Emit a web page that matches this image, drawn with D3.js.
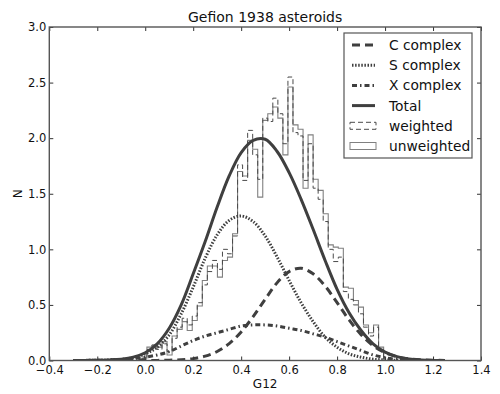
<html>
<head>
<meta charset="utf-8">
<script src="https://d3js.org/d3.v7.min.js"></script>
<style>
    html, body {
        margin: 0;
        padding: 0;
        background: white;
    }
    text {
        font-family: "DejaVu Sans", sans-serif;
        fill: #111;
    }
</style>
</head>
<body>
<script>
    var width = 500;
    var height = 394;

    // model curves, sampled on a G12 grid
    var gridX = [-0.30, -0.25, -0.20, -0.15, -0.10, -0.05, 0.00, 0.05, 0.10, 0.15, 0.20, 0.25, 0.30, 0.35, 0.40, 0.45,
                 0.50, 0.55, 0.60, 0.65, 0.70, 0.75, 0.80, 0.85, 0.90, 0.95, 1.00, 1.05, 1.10, 1.15, 1.20, 1.25];
    var cComplex = [0, 0, 0, 0, 0, 0, 0, 0.001, 0.003, 0.007, 0.017, 0.039, 0.081, 0.152, 0.257, 0.395,
                    0.55, 0.70, 0.80, 0.83, 0.78, 0.67, 0.52, 0.365, 0.233, 0.134, 0.071, 0.034, 0.015, 0.006, 0.002, 0.001];
    var sComplex = [0, 0.001, 0.002, 0.005, 0.010, 0.025, 0.06, 0.12, 0.23, 0.42, 0.66, 0.92, 1.13, 1.26, 1.30, 1.25,
                    1.12, 0.93, 0.72, 0.52, 0.35, 0.21, 0.12, 0.06, 0.03, 0.012, 0.005, 0.002, 0, 0, 0, 0];
    var xComplex = [0, 0.001, 0.002, 0.004, 0.008, 0.015, 0.03, 0.05, 0.08, 0.13, 0.18, 0.22, 0.25, 0.28, 0.31, 0.32,
                    0.32, 0.31, 0.29, 0.27, 0.24, 0.21, 0.17, 0.13, 0.09, 0.05, 0.025, 0.01, 0.004, 0.001, 0, 0];
    var total = [0, 0, 0.002, 0.005, 0.012, 0.03, 0.07, 0.15, 0.29, 0.50, 0.78, 1.07, 1.38, 1.66, 1.87, 1.98,
                 1.99, 1.88, 1.69, 1.45, 1.18, 0.90, 0.64, 0.43, 0.27, 0.15, 0.075, 0.035, 0.014, 0.005, 0.001, 0];

    // histograms
    var binEdges = [-0.014, 0.007, 0.028, 0.049, 0.070, 0.091, 0.112, 0.133, 0.154, 0.175, 0.196, 0.217, 0.238,
                    0.259, 0.280, 0.301, 0.322, 0.343, 0.364, 0.385, 0.406, 0.427, 0.448, 0.469, 0.490, 0.511,
                    0.532, 0.553, 0.574, 0.595, 0.616, 0.637, 0.658, 0.679, 0.700, 0.721, 0.742, 0.763, 0.784,
                    0.805, 0.826, 0.847, 0.868, 0.889, 0.910, 0.931, 0.952, 0.973, 0.994];
    var unweighted = [0.02, 0.12, 0.13, 0.12, 0.17, 0.05, 0.22, 0.28, 0.35, 0.27, 0.36, 0.49, 0.72, 0.85, 0.85, 0.75,
                      0.90, 0.93, 1.14, 1.70, 1.66, 1.98, 1.90, 1.47, 2.16, 2.22, 2.28, 2.18, 1.85, 2.46, 2.12, 2.08,
                      1.55, 2.03, 1.63, 1.53, 1.32, 1.04, 1.02, 1.01, 0.66, 0.65, 0.54, 0.48, 0.32, 0.25, 0.32, 0.12];
    var weighted = [0.02, 0.10, 0.14, 0.10, 0.15, 0.08, 0.20, 0.30, 0.38, 0.32, 0.40, 0.52, 0.68, 0.80, 0.90, 0.82,
                    1.00, 0.96, 1.12, 1.76, 1.62, 2.07, 1.85, 1.63, 2.18, 2.15, 2.36, 2.22, 1.95, 2.55, 2.05, 2.02,
                    1.62, 1.95, 1.55, 1.45, 1.25, 1.00, 0.89, 0.93, 0.62, 0.55, 0.50, 0.42, 0.30, 0.22, 0.30, 0.10];

    var xTicks = [-0.4, -0.2, 0.0, 0.2, 0.4, 0.6, 0.8, 1.0, 1.2, 1.4];
    var yTicks = [0.0, 0.5, 1.0, 1.5, 2.0, 2.5, 3.0];
    var legendLabels = ["C complex", "S complex", "X complex", "Total", "weighted", "unweighted"];

    var plotL = 49.3, plotR = 481, plotT = 27, plotB = 360.5;
    var lineColor = "#3f3f3f";

    var x = d3.scaleLinear().domain([-0.4, 1.4]).range([plotL, plotR]);
    var y = d3.scaleLinear().domain([0, 3]).range([plotB, plotT]);

    var svg = d3.select("body").append("svg")
    .attr("width", width)
    .attr("height", height);

    svg.append("clipPath").attr("id", "plotclip")
    .append("rect")
    .attr("x", plotL).attr("y", plotT)
    .attr("width", plotR - plotL).attr("height", plotB - plotT);

    var plot = svg.append("g").attr("clip-path", "url(#plotclip)");

    function stepPath(values) {
        var pts = [[x(binEdges[0]), y(0)]];
        for (var i = 0; i < values.length; i++) {
            pts.push([x(binEdges[i]), y(values[i])]);
            pts.push([x(binEdges[i + 1]), y(values[i])]);
        }
        pts.push([x(binEdges[values.length]), y(0)]);
        return d3.line()(pts);
    }

    plot.append("path")
    .attr("d", stepPath(unweighted))
    .attr("fill", "none")
    .attr("stroke", "#808080")
    .attr("stroke-width", 1.1);

    plot.append("path")
    .attr("d", stepPath(weighted))
    .attr("fill", "none")
    .attr("stroke", "#4a4a4a")
    .attr("stroke-width", 1)
    .attr("stroke-dasharray", "5,3");

    var curve = d3.line()
    .x(function (d) { return x(d[0]); })
    .y(function (d) { return y(Math.max(0, d[1])); })
    .curve(d3.curveCatmullRom.alpha(0.5));

    function pairs(vals) {
        return gridX.map(function (g, i) { return [g, vals[i]]; });
    }

    var styles = [
        { vals: cComplex, dash: "8,5" },
        { vals: sComplex, dash: "1.5,1.6" },
        { vals: xComplex, dash: "5,3,1.5,3" },
        { vals: total, dash: null }
    ];

    styles.forEach(function (s) {
        plot.append("path")
        .attr("d", curve(pairs(s.vals)))
        .attr("fill", "none")
        .attr("stroke", lineColor)
        .attr("stroke-width", 3)
        .attr("stroke-dasharray", s.dash);
    });

    // axes with inward ticks on all sides
    var fmt = d3.format(".1f");
    var axB = svg.append("g").attr("transform", "translate(0," + plotB + ")")
    .call(d3.axisBottom(x).tickValues(xTicks).tickFormat(fmt).tickSizeInner(-4).tickSizeOuter(0).tickPadding(5));
    var axL = svg.append("g").attr("transform", "translate(" + plotL + ",0)")
    .call(d3.axisLeft(y).tickValues(yTicks).tickFormat(fmt).tickSizeInner(-4).tickSizeOuter(0).tickPadding(3));
    var axT = svg.append("g").attr("transform", "translate(0," + plotT + ")")
    .call(d3.axisTop(x).tickValues(xTicks).tickFormat("").tickSizeInner(-4).tickSizeOuter(0));
    var axR = svg.append("g").attr("transform", "translate(" + plotR + ",0)")
    .call(d3.axisRight(y).tickValues(yTicks).tickFormat("").tickSizeInner(-4).tickSizeOuter(0));

    [axB, axL, axT, axR].forEach(function (a) {
        a.select(".domain").remove();
        a.selectAll(".tick line").attr("stroke", "#333").attr("stroke-width", 1);
        a.selectAll(".tick text")
        .attr("font-family", "DejaVu Sans")
        .attr("font-size", 11.5)
        .attr("fill", "#111");
    });

    svg.append("rect")
    .attr("x", plotL).attr("y", plotT)
    .attr("width", plotR - plotL).attr("height", plotB - plotT)
    .attr("fill", "none")
    .attr("stroke", "#555")
    .attr("stroke-width", 1.4);

    svg.append("text")
    .attr("x", (plotL + plotR) / 2)
    .attr("y", 22)
    .attr("text-anchor", "middle")
    .attr("font-size", 14)
    .text("Gefion 1938 asteroids");

    svg.append("text")
    .attr("x", (plotL + plotR) / 2)
    .attr("y", 388)
    .attr("text-anchor", "middle")
    .attr("font-size", 12)
    .text("G12");

    svg.append("text")
    .attr("transform", "translate(22," + ((plotT + plotB) / 2) + ") rotate(-90)")
    .attr("text-anchor", "middle")
    .attr("font-size", 12)
    .text("N");

    // legend
    var lg = svg.append("g");
    lg.append("rect")
    .attr("x", 344).attr("y", 33)
    .attr("width", 128).attr("height", 125)
    .attr("fill", "white")
    .attr("stroke", "#555")
    .attr("stroke-width", 1.2);

    legendLabels.forEach(function (label, i) {
        var cy = 45 + i * 20.2;
        if (i < 4) {
            lg.append("line")
            .attr("x1", 352).attr("x2", 375)
            .attr("y1", cy).attr("y2", cy)
            .attr("stroke", lineColor)
            .attr("stroke-width", 3)
            .attr("stroke-dasharray", styles[i].dash);
        } else {
            lg.append("rect")
            .attr("x", 350).attr("y", cy - 3.5)
            .attr("width", 26).attr("height", 7)
            .attr("fill", "none")
            .attr("stroke", i == 4 ? "#4a4a4a" : "#808080")
            .attr("stroke-width", 1)
            .attr("stroke-dasharray", i == 4 ? "5,3" : null);
        }
        lg.append("text")
        .attr("x", 389)
        .attr("y", cy)
        .attr("dy", "0.36em")
        .attr("font-size", 13.8)
        .text(label);
    });
</script>
</body>
</html>
